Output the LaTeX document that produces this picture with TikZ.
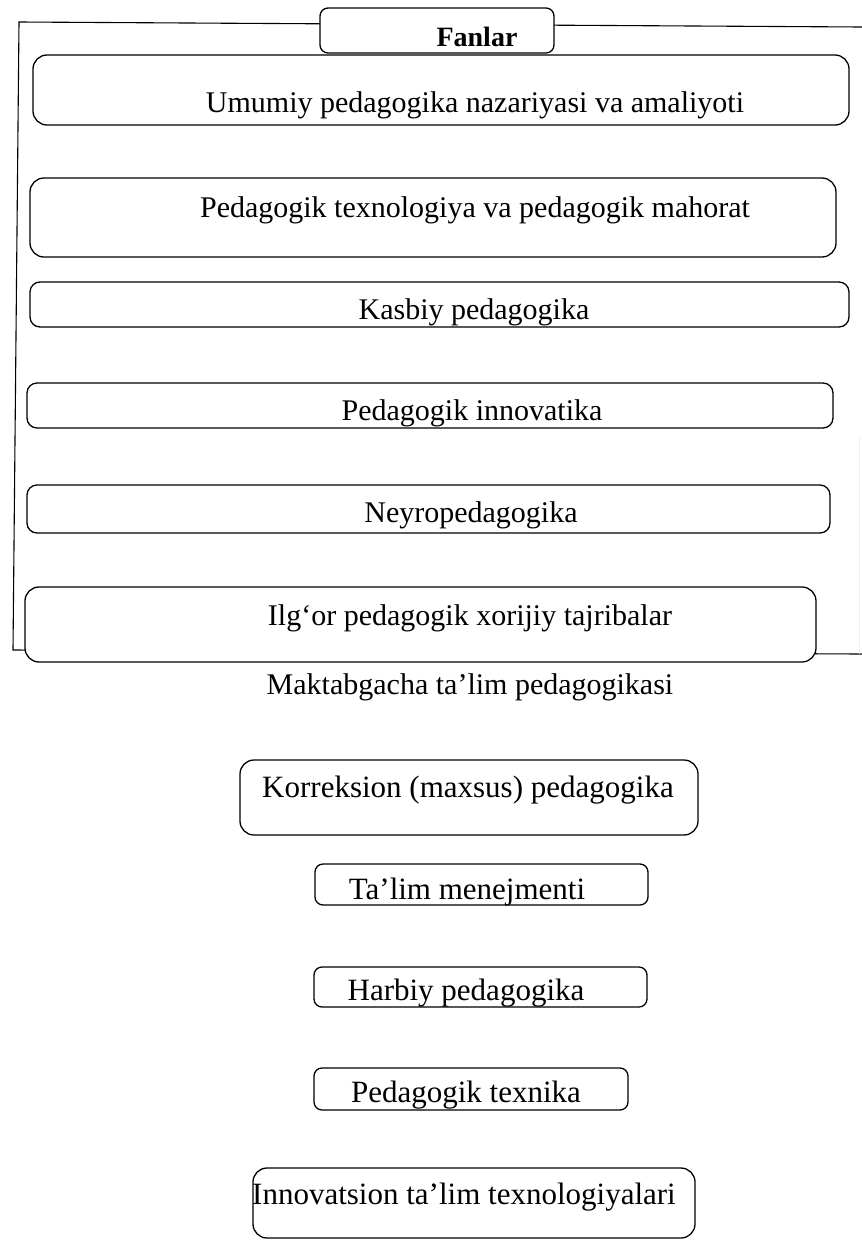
\documentclass[tikz,border=0pt]{standalone}
\usepackage{fontspec}
\setmainfont{Liberation Serif}

\begin{document}
\begin{tikzpicture}[x=1pt,y=-1pt]
\tikzstyle{box}=[draw,fill=white,line width=1.3pt,inner sep=0pt,rounded corners=14pt]
\tikzstyle{small}=[draw,fill=white,line width=1.3pt,inner sep=0pt,rounded corners=8pt]
\tikzstyle{lbl}=[inner sep=0pt,font=\fontsize{30}{36}\selectfont]
\tikzstyle{lblb}=[inner sep=0pt,font=\fontsize{31}{37}\selectfont]
\useasboundingbox (0,0) rectangle (862,1240);
\coordinate (ftl) at (19,22);
\coordinate (ftr) at (862,27);
\coordinate (fbl) at (13,650);
\coordinate (fbr) at (862,654);
\coordinate (frr) at (859,437);
\draw [line width=1.1pt] (ftr) -- (ftl) -- (fbl) -- (fbr);
\draw [gray!12,line width=0.6pt] (frr) -- (859,654);
\node [small,minimum width=234pt,minimum height=45pt] (fan) at (437,30.5) {};
\node [box,minimum width=816pt,minimum height=70pt] (b1) at (441,90) {};
\node [box,minimum width=806pt,minimum height=79pt] (b2) at (433,217.5) {};
\node [box,rounded corners=10pt,minimum width=819pt,minimum height=45pt] (b3) at (439.5,304.5) {};
\node [box,rounded corners=10pt,minimum width=806pt,minimum height=45pt] (b4) at (430,405.5) {};
\node [box,rounded corners=10pt,minimum width=803pt,minimum height=48pt] (b5) at (428.5,509) {};
\node [box,minimum width=791pt,minimum height=75pt] (b6) at (420.5,624.5) {};
\node [box,minimum width=458pt,minimum height=75pt] (b7) at (469,797.5) {};
\node [small,minimum width=333pt,minimum height=41pt] (b8) at (481.5,884.5) {};
\node [small,minimum width=333pt,minimum height=40pt] (b9) at (480.5,987) {};
\node [small,minimum width=314pt,minimum height=42pt] (b10) at (471,1089) {};
\node [box,minimum width=442pt,minimum height=70pt] (b11) at (474,1203) {};
\node [lbl,font=\fontsize{28}{34}\selectfont\bfseries] (tfan) at (477,37) {Fanlar};
\node [lbl] (t1) at (475,105) {Umumiy pedagogika nazariyasi va amaliyoti};
\node [lbl] (t2) at (475,210) {Pedagogik texnologiya va pedagogik mahorat};
\node [lbl] (t3) at (474,312) {Kasbiy pedagogika};
\node [lbl] (t4) at (472,413) {Pedagogik innovatika};
\node [lbl] (t5) at (471,515) {Neyropedagogika};
\node [lbl] (t6) at (470,618) {Ilg‘or pedagogik xorijiy tajribalar};
\node [lbl] (t7) at (470,687) {Maktabgacha ta’lim pedagogikasi};
\node [lblb] (t8) at (468,790) {Korreksion (maxsus) pedagogika};
\node [lblb] (t9) at (467,892) {Ta’lim menejmenti};
\node [lblb] (t10) at (466,993) {Harbiy pedagogika};
\node [lblb] (t11) at (466,1095) {Pedagogik texnika};
\node [lblb] (t12) at (464,1197) {Innovatsion ta’lim texnologiyalari};
\end{tikzpicture}
\end{document}
